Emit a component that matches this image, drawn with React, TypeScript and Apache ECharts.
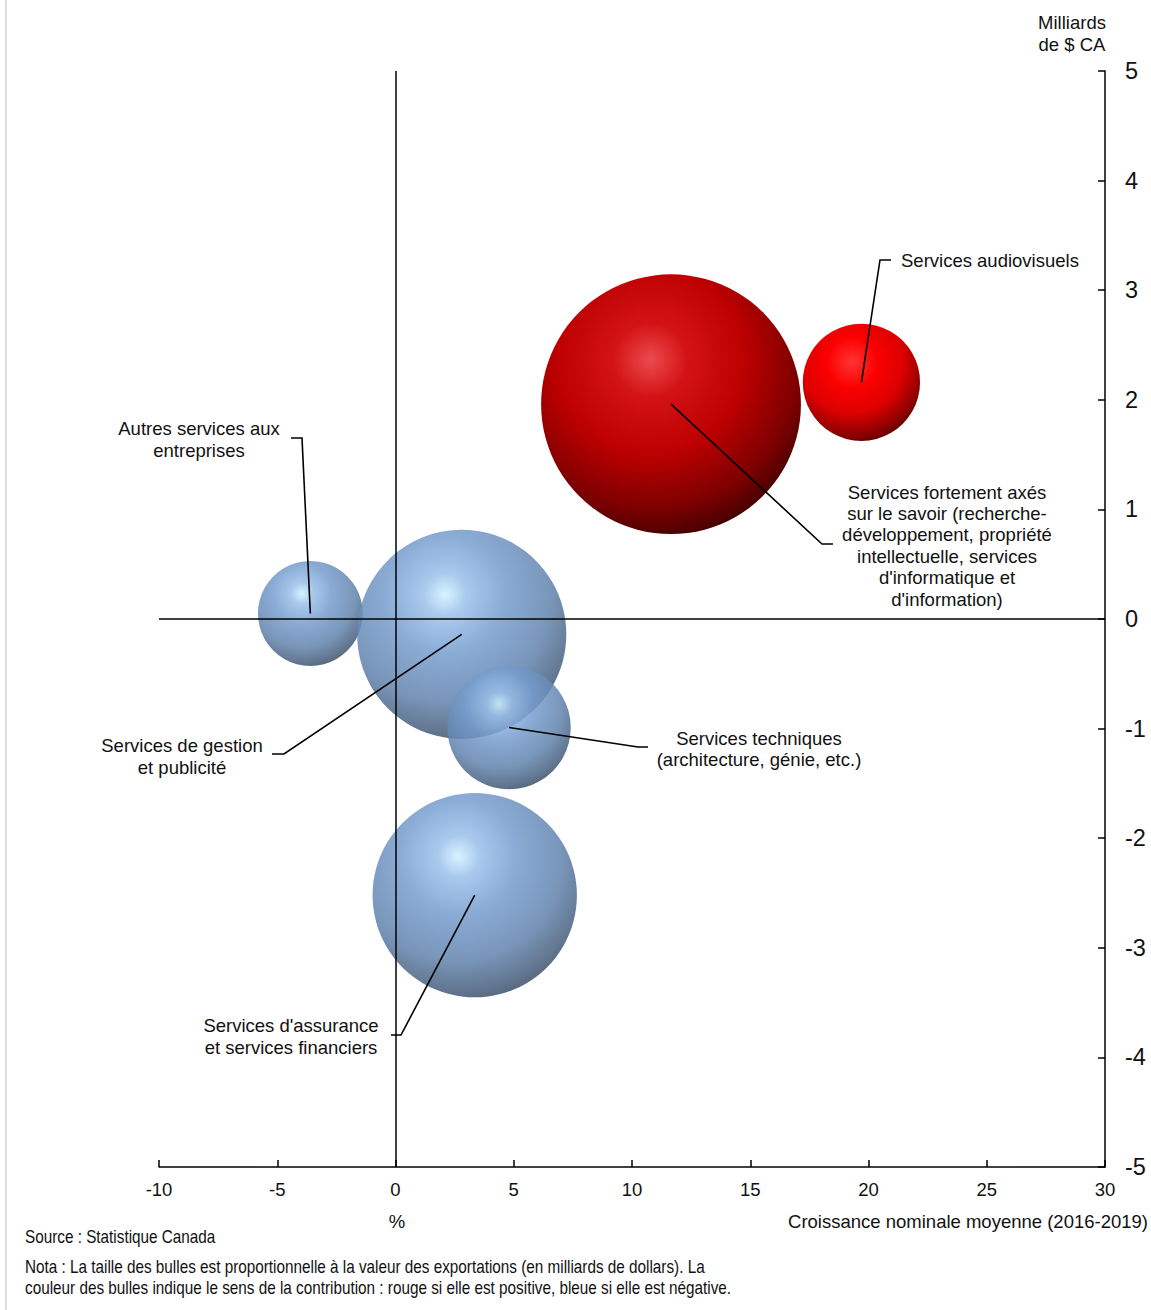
import React, { useEffect, useRef } from "react";
import * as echarts from "echarts";

// Service categories, growth (% avg 2016-2019), contribution (billions CAD), export value (billions)
const categories = [
  "Autres services aux entreprises",
  "Services de gestion et publicité",
  "Services techniques",
  "Services d'assurance et services financiers",
  "Services fortement axés sur le savoir",
  "Services audiovisuels",
];
const growth = [-3.6, 2.8, 4.8, 3.35, 11.65, 19.7];
const contribution = [0.05, -0.14, -0.99, -2.52, 1.96, 2.16];
const exportsValue = [4.4, 17.5, 6.1, 16.7, 27.0, 5.5];
// Direction of the contribution to growth (true = positive)
const positiveContribution = [false, false, false, false, true, true];

const labelTexts = [
  "Autres services aux\nentreprises",
  "Services de gestion\net publicité",
  "Services techniques\n(architecture, génie, etc.)",
  "Services d'assurance\net services financiers",
  "Services fortement axés\nsur le savoir (recherche-\ndéveloppement, propriété\nintellectuelle, services\nd'informatique et\nd'information)",
  "Services audiovisuels",
];

const xTicks = { min: -10, max: 30, interval: 5 };
const yTicks = { min: -5, max: 5, interval: 1 };

// Callout layout (pixels): elbow of the leader line, its end, and the text anchor
const callouts = [
  { elbow: [302, 438], end: [291, 438], tx: 199, ty: 439.5, align: "center" },
  { elbow: [284, 754], end: [272, 754], tx: 182, ty: 756.5, align: "center" },
  { elbow: [638, 747], end: [648, 747], tx: 759, ty: 749, align: "center" },
  { elbow: [401, 1035], end: [391, 1035], tx: 291, ty: 1036.5, align: "center" },
  { elbow: [822, 544], end: [833, 544], tx: 947, ty: 545.5, align: "center" },
  { elbow: [880, 260], end: [891, 260], tx: 901, ty: 260, align: "left" },
];

const FONT = "'Liberation Sans', Arial, sans-serif";
const TEXT = "#111";
const FS = 18.5;

const deepRed = () =>
  new echarts.graphic.RadialGradient(0.42, 0.33, 0.72, [
    { offset: 0, color: "#ec4b4e" },
    { offset: 0.2, color: "#d31215" },
    { offset: 0.5, color: "#bd0000" },
    { offset: 0.8, color: "#7c0000" },
    { offset: 1, color: "#380000" },
  ]);

const brightRed = () =>
  new echarts.graphic.RadialGradient(0.42, 0.33, 0.72, [
    { offset: 0, color: "#ff3434" },
    { offset: 0.3, color: "#fb0000" },
    { offset: 0.6, color: "#de0000" },
    { offset: 0.85, color: "#900000" },
    { offset: 1, color: "#560000" },
  ]);

const blueSphere = () =>
  new echarts.graphic.RadialGradient(0.42, 0.31, 0.74, [
    { offset: 0, color: "#d0f2ff" },
    { offset: 0.14, color: "#9ac0ea" },
    { offset: 0.38, color: "#769dce" },
    { offset: 0.68, color: "#6284ae" },
    { offset: 0.88, color: "#48607f" },
    { offset: 1, color: "#34465e" },
  ]);

const sizeOf = (v: number) => 50 * Math.sqrt(v);

export default function App() {
  const ref = useRef<HTMLDivElement>(null);

  useEffect(() => {
    document.body.style.margin = "0";
    const chart = echarts.init(ref.current!, null, { renderer: "svg" });

    const bubbles = categories.map((name, i) => {
      const pos = positiveContribution[i];
      const fill = pos ? (exportsValue[i] > 10 ? deepRed() : brightRed()) : blueSphere();
      return {
        name,
        value: [growth[i], contribution[i], exportsValue[i]],
        symbolSize: sizeOf(exportsValue[i]),
        itemStyle: { color: fill, opacity: pos ? 1 : 0.85 },
      };
    });

    chart.setOption({
      animation: false,
      backgroundColor: "#fff",
      grid: { left: 159, right: 46, top: 71, bottom: 143, containLabel: false },
      xAxis: {
        type: "value",
        min: xTicks.min,
        max: xTicks.max,
        interval: xTicks.interval,
        position: "bottom",
        axisLine: { show: true, onZero: false, lineStyle: { color: "#000", width: 1.5 } },
        axisTick: { show: true, inside: true, length: 7, lineStyle: { color: "#000", width: 1.5 } },
        axisLabel: { margin: 13, fontSize: FS, color: TEXT, fontFamily: FONT },
        splitLine: { show: false },
      },
      yAxis: {
        type: "value",
        min: yTicks.min,
        max: yTicks.max,
        interval: yTicks.interval,
        position: "right",
        axisLine: { show: true, onZero: false, lineStyle: { color: "#000", width: 1.5 } },
        axisTick: { show: true, inside: true, length: 7, lineStyle: { color: "#000", width: 1.5 } },
        axisLabel: { margin: 20, fontSize: 23.5, color: TEXT, fontFamily: FONT },
        splitLine: { show: false },
      },
      series: [
        {
          type: "scatter",
          data: [],
          z: 1,
          silent: true,
          markLine: {
            silent: true,
            symbol: "none",
            label: { show: false },
            lineStyle: { color: "#000", width: 1.5, type: "solid" },
            data: [{ xAxis: 0 }, { yAxis: 0 }],
          },
        },
        {
          type: "scatter",
          z: 2,
          data: bubbles,
          label: { show: false },
        },
      ],
    });

    const leaders: any[] = [];
    const labels: any[] = [];
    categories.forEach((_, i) => {
      const c = chart.convertToPixel({ seriesIndex: 1 }, [growth[i], contribution[i]]) as number[];
      const co = callouts[i];
      leaders.push({
        type: "polyline",
        z: 100,
        shape: { points: [c, co.elbow, co.end] },
        style: { stroke: "#000", lineWidth: 1.6, fill: null },
      });
      labels.push({
        type: "text",
        z: 100,
        x: co.tx,
        y: co.ty,
        style: {
          text: labelTexts[i],
          fill: TEXT,
          font: `${FS}px ${FONT}`,
          lineHeight: i === 4 ? 21.4 : 21.5,
          align: co.align,
          verticalAlign: "middle",
        },
      });
    });

    chart.setOption({
      graphic: [
        { type: "rect", shape: { x: 5, y: 0, width: 2, height: 1310 }, style: { fill: "#dcdcdc" } },
        ...leaders,
        ...labels,
        {
          type: "text",
          x: 1072,
          y: 33,
          style: {
            text: "Milliards\nde $ CA",
            fill: TEXT,
            font: `${FS}px ${FONT}`,
            lineHeight: 22,
            align: "center",
            verticalAlign: "middle",
          },
        },
        {
          type: "text",
          x: 397,
          y: 1221,
          style: { text: "%", fill: TEXT, font: `${FS}px ${FONT}`, align: "center", verticalAlign: "middle" },
        },
        {
          type: "text",
          x: 1148,
          y: 1221,
          style: {
            text: "Croissance nominale moyenne (2016-2019)",
            fill: TEXT,
            font: `${FS}px ${FONT}`,
            align: "right",
            verticalAlign: "middle",
          },
        },
        {
          type: "text",
          x: 25,
          y: 1237,
          scaleX: 0.85,
          style: {
            text: "Source : Statistique Canada",
            fill: TEXT,
            font: `18px ${FONT}`,
            align: "left",
            verticalAlign: "middle",
          },
        },
        {
          type: "text",
          x: 25,
          y: 1277.5,
          scaleX: 0.85,
          style: {
            text:
              "Nota : La taille des bulles est proportionnelle à la valeur des exportations (en milliards de dollars). La\ncouleur des bulles indique le sens de la contribution : rouge si elle est positive, bleue si elle est négative.",
            fill: TEXT,
            font: `18px ${FONT}`,
            lineHeight: 21,
            align: "left",
            verticalAlign: "middle",
          },
        },
      ],
    });

    return () => chart.dispose();
  }, []);

  return <div ref={ref} style={{ width: 1151, height: 1310 }} />;
}
